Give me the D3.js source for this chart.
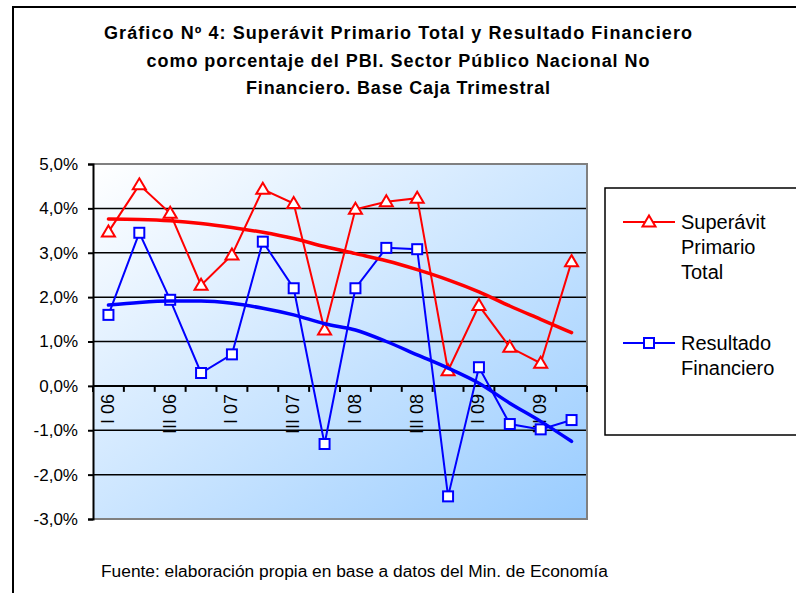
<!DOCTYPE html>
<meta charset="utf-8">
<script src="https://d3js.org/d3.v7.min.js"></script>
<style>
  body { margin: 0; background: #fff; }
  text { font-family: "Liberation Sans", Arial, sans-serif; fill: #000; }
</style>
<body>
<script>
// quarters I 06 .. IV 09
var quarters = ["I 06", "II 06", "III 06", "IV 06", "I 07", "II 07", "III 07", "IV 07",
                "I 08", "II 08", "III 08", "IV 08", "I 09", "II 09", "III 09", "IV 09"];
// % del PBI
var superavit = [3.47, 4.53, 3.89, 2.27, 2.95, 4.43, 4.11, 1.26,
                 3.98, 4.15, 4.23, 0.34, 1.81, 0.87, 0.51, 2.80];
var resultado = [1.60, 3.45, 1.94, 0.29, 0.71, 3.25, 2.20, -1.31,
                 2.20, 3.11, 3.08, -2.49, 0.42, -0.86, -0.98, -0.77];
// polynomial trend lines as drawn in the original
var trendSuperavit = [3.76, 3.75, 3.72, 3.66, 3.57, 3.46, 3.32, 3.14,
                      2.98, 2.82, 2.62, 2.39, 2.12, 1.80, 1.50, 1.20];
var trendResultado = [1.82, 1.88, 1.91, 1.91, 1.86, 1.75, 1.60, 1.40,
                      1.26, 1.00, 0.70, 0.40, 0.06, -0.39, -0.80, -1.25];
var yTicks = [-3, -2, -1, 0, 1, 2, 3, 4, 5];
var titleLines = ["Gráfico Nº 4:  Superávit Primario Total y Resultado Financiero",
                  "como porcentaje del PBI. Sector Público Nacional No",
                  "Financiero. Base Caja Trimestral"];
var titleWidths = [588, 503, 304];
var legendItems = [
  {name: ["Superávit", "Primario", "Total"], color: "#ff0000", shape: "tri"},
  {name: ["Resultado", "Financiero"], color: "#0000ff", shape: "sq"}
];

var W = 796, H = 593;
var plot = {left: 93, right: 587, top: 164, bottom: 519};

var svg = d3.select("body").append("svg")
    .attr("width", W)
    .attr("height", H);

var defs = svg.append("defs");
var grad = defs.append("linearGradient")
    .attr("id", "bg")
    .attr("x1", "0%").attr("y1", "0%")
    .attr("x2", "100%").attr("y2", "100%");
grad.append("stop").attr("offset", 0).attr("stop-color", "#ffffff");
grad.append("stop").attr("offset", 1).attr("stop-color", "#99ccff");

// outer frame (left + top)
svg.append("path")
    .attr("d", "M13," + H + "V7H" + W)
    .attr("fill", "none")
    .attr("stroke", "#000")
    .attr("stroke-width", 2);

// title
svg.append("g").selectAll("text")
    .data(titleLines)
    .enter().append("text")
    .attr("x", 398)
    .attr("y", (d, i) => 39 + i * 27.5)
    .attr("text-anchor", "middle")
    .attr("textLength", (d, i) => titleWidths[i])
    .attr("lengthAdjust", "spacing")
    .style("font-size", "18px")
    .style("font-weight", "bold")
    .text(d => d);

var x = d3.scaleBand().domain(quarters).range([plot.left, plot.right]);
var y = d3.scaleLinear().domain([-3, 5]).range([plot.bottom, plot.top]);
var cx = d => x(d) + x.bandwidth() / 2;

// plot background
svg.append("rect")
    .attr("x", plot.left).attr("y", plot.top)
    .attr("width", plot.right - plot.left)
    .attr("height", plot.bottom - plot.top)
    .attr("fill", "url(#bg)");

// gridlines
svg.append("g").selectAll("line")
    .data(yTicks.filter(d => d !== 5 && d !== -3))
    .enter().append("line")
    .attr("x1", plot.left).attr("x2", plot.right)
    .attr("y1", d => y(d)).attr("y2", d => y(d))
    .attr("stroke", "#000")
    .attr("stroke-width", 1.5);

// plot border (grey)
svg.append("path")
    .attr("d", "M" + plot.left + "," + plot.top + "H" + plot.right + "V" + plot.bottom + "H" + plot.left)
    .attr("fill", "none")
    .attr("stroke", "#808080")
    .attr("stroke-width", 2);

// y axis
var yAxis = svg.append("g")
    .attr("transform", "translate(" + plot.left + ",0)")
    .call(d3.axisLeft(y)
        .tickValues(yTicks)
        .tickSize(5)
        .tickPadding(10)
        .tickFormat(d => d3.format(".1f")(d).replace(".", ",").replace("−", "-") + "%"));
yAxis.select(".domain").attr("stroke", "#000").attr("stroke-width", 2);
yAxis.selectAll(".tick line").attr("stroke", "#000").attr("stroke-width", 2);
yAxis.selectAll("text").style("font-size", "17px").attr("font-family", null).attr("fill", "#000");

// x axis at 0
var y0 = y(0);
var xAxis = svg.append("g");
xAxis.append("line")
    .attr("x1", plot.left).attr("x2", plot.right)
    .attr("y1", y0).attr("y2", y0)
    .attr("stroke", "#000").attr("stroke-width", 2);
xAxis.selectAll(".xt")
    .data(quarters.concat(["end"]))
    .enter().append("line")
    .attr("x1", (d, i) => plot.left + i * x.bandwidth())
    .attr("x2", (d, i) => plot.left + i * x.bandwidth())
    .attr("y1", y0).attr("y2", y0 + 6)
    .attr("stroke", "#000").attr("stroke-width", 2);
xAxis.selectAll("text")
    .data(quarters.filter((d, i) => i % 2 === 0))
    .enter().append("text")
    .attr("transform", d => "translate(" + (cx(d) - 1) + "," + (y0 + 8) + ") rotate(-90)")
    .attr("text-anchor", "end")
    .attr("dy", "0.35em")
    .style("font-size", "18px")
    .text(d => d);

// series
var line = d3.line().x((d, i) => cx(quarters[i])).y(d => y(d));
var tri = "M0,-6.5L6.5,4.5L-6.5,4.5Z";

function drawSeries(values, color, shape) {
  svg.append("path")
      .datum(values)
      .attr("d", line)
      .attr("fill", "none")
      .attr("stroke", color)
      .attr("stroke-width", 2);
  var g = svg.append("g");
  if (shape === "tri") {
    g.selectAll("path").data(values).enter().append("path")
        .attr("d", tri)
        .attr("transform", (d, i) => "translate(" + cx(quarters[i]) + "," + y(d) + ")")
        .attr("fill", "#fff").attr("stroke", color).attr("stroke-width", 2);
  } else {
    g.selectAll("rect").data(values).enter().append("rect")
        .attr("x", (d, i) => cx(quarters[i]) - 5)
        .attr("y", d => y(d) - 5)
        .attr("width", 10).attr("height", 10)
        .attr("fill", "#fff").attr("stroke", color).attr("stroke-width", 2);
  }
}
drawSeries(superavit, "#ff0000", "tri");
drawSeries(resultado, "#0000ff", "sq");

// trend lines
var smooth = d3.line().curve(d3.curveMonotoneX).x((d, i) => cx(quarters[i])).y(d => y(d));
[[trendSuperavit, "#ff0000"], [trendResultado, "#0000ff"]].forEach(function (t) {
  svg.append("path")
      .datum(t[0])
      .attr("d", smooth)
      .attr("fill", "none")
      .attr("stroke", t[1])
      .attr("stroke-width", 3.5)
      .attr("stroke-linecap", "round");
});

// legend
svg.append("rect")
    .attr("x", 605).attr("y", 188)
    .attr("width", 200).attr("height", 247)
    .attr("fill", "#fff")
    .attr("stroke", "#000")
    .attr("stroke-width", 1.5);
var legY = [222, 343];
legendItems.forEach(function (it, k) {
  var g = svg.append("g").attr("transform", "translate(0," + legY[k] + ")");
  g.append("line").attr("x1", 623).attr("x2", 675)
      .attr("stroke", it.color).attr("stroke-width", 2);
  if (it.shape === "tri") {
    g.append("path").attr("d", tri).attr("transform", "translate(649,0)")
        .attr("fill", "#fff").attr("stroke", it.color).attr("stroke-width", 2);
  } else {
    g.append("rect").attr("x", 644).attr("y", -5).attr("width", 10).attr("height", 10)
        .attr("fill", "#fff").attr("stroke", it.color).attr("stroke-width", 2);
  }
  var t = g.append("text").attr("x", 681).attr("y", 7).style("font-size", "20px");
  it.name.forEach(function (s, j) {
    t.append("tspan").attr("x", 681).attr("dy", j === 0 ? 0 : 25).text(s);
  });
});

// source
svg.append("text")
    .attr("x", 101).attr("y", 577)
    .style("font-size", "16px")
    .attr("textLength", 507)
    .attr("lengthAdjust", "spacingAndGlyphs")
    .text("Fuente: elaboración propia en base a datos del Min. de Economía");
</script>
</body>
